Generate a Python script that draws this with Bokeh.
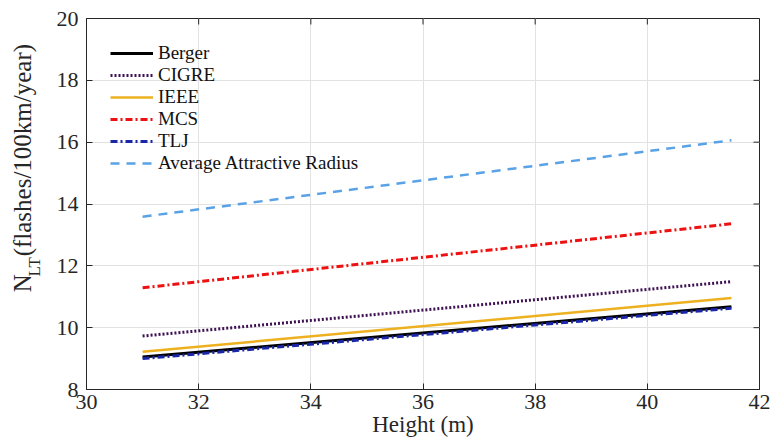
import numpy as np
from bokeh.plotting import figure
from bokeh.layouts import row
from bokeh.models import FixedTicker, Legend, LegendItem, Range1d, Label
from bokeh.embed import file_html
from bokeh.resources import INLINE

# ---- data ----
height_m = [31.0, 41.5]
berger = [9.05, 10.68]
cigre = [9.73, 11.49]
ieee = [9.22, 10.96]
mcs = [11.29, 13.36]
tlj = [9.00, 10.63]
avg_radius = [13.59, 16.06]
series_names = ["Berger", "CIGRE", "IEEE", "MCS", "TLJ", "Average Attractive Radius"]
x_ticks = [30, 32, 34, 36, 38, 40, 42]
y_ticks = [8, 10, 12, 14, 16, 18, 20]
x_label = "Height (m)"
y_label_parts = ["N", "LT", "(flashes/100km/year)"]

FONT = "Liberation Serif"
AX = "#262626"
W, H = 771, 443
YLAB_W = 48

# ---------------- main plot ----------------
p = figure(width=W - YLAB_W, height=H, x_range=Range1d(30, 42), y_range=Range1d(8, 20),
           output_backend="svg", toolbar_location=None,
           min_border_left=86 - YLAB_W, min_border_right=12, min_border_top=18,
           min_border_bottom=H - 389)
p.outline_line_color = AX
p.background_fill_color = "white"
p.border_fill_color = "white"

bottom_axis = p.below[0]
left_axis = p.left[0]
for ax in [bottom_axis, left_axis]:
    ax.axis_line_color = AX
    ax.axis_line_width = 1
    ax.major_tick_in = 6
    ax.major_tick_out = 0
    ax.minor_tick_in = 0
    ax.minor_tick_out = 0
    ax.major_tick_line_color = AX
    ax.major_label_text_font = FONT
    ax.major_label_text_font_size = "22px"
    ax.major_label_text_color = AX
bottom_axis.ticker = FixedTicker(ticks=x_ticks)
left_axis.ticker = FixedTicker(ticks=y_ticks)
bottom_axis.major_label_standoff = 5
left_axis.major_label_standoff = 8

bottom_axis.axis_label = x_label
bottom_axis.axis_label_standoff = 0
bottom_axis.axis_label_text_font = FONT
bottom_axis.axis_label_text_font_size = "23px"
bottom_axis.axis_label_text_font_style = "normal"
bottom_axis.axis_label_text_color = AX

# inward ticks on the top and right edges of the box
p.ray(x=[x_ticks[-1]] * len(y_ticks), y=y_ticks, length=6, length_units="screen",
      angle=np.pi, line_color=AX, line_width=1)
p.ray(x=x_ticks, y=[y_ticks[-1]] * len(x_ticks), length=6, length_units="screen",
      angle=-np.pi / 2, line_color=AX, line_width=1)

p.xgrid.ticker = FixedTicker(ticks=x_ticks)
p.ygrid.ticker = FixedTicker(ticks=y_ticks)
p.grid.grid_line_color = "#e2e2e2"
p.grid.grid_line_width = 1

styles = [
    (berger, "#000000", "solid", 3),
    (cigre, "#3d1152", "2 2", 3),
    (ieee, "#EDB120", "solid", 2.5),
    (mcs, "#ee1111", "7 3 2 3", 3),
    (tlj, "#1a26a8", "7 3 2 3", 3),
    (avg_radius, "#5aa2e6", "9 7", 2.5),
]
items = []
for name, (vals, col, dash, w) in zip(series_names, styles):
    r = p.line(height_m, vals, line_color=col, line_dash=dash, line_width=w)
    items.append(LegendItem(label=name, renderers=[r]))

legend = Legend(items=items, location="top_left")
legend.border_line_color = None
legend.background_fill_alpha = 0
legend.margin = 24
legend.padding = 0
legend.spacing = 0
legend.glyph_width = 43
legend.glyph_height = 20
legend.label_height = 20
legend.label_standoff = 5
legend.label_text_font = FONT
legend.label_text_font_size = "19px"
legend.label_text_color = "#111111"
p.add_layout(legend)

# ---------------- y-axis label strip (with subscript) ----------------
ylab = figure(width=YLAB_W, height=H, x_range=Range1d(0, YLAB_W), y_range=Range1d(0, H),
              output_backend="svg", toolbar_location=None,
              x_axis_type=None, y_axis_type=None, min_border=0)
ylab.outline_line_color = None
ylab.grid.visible = False
ylab.background_fill_color = "white"
for (px, py, size), txt in zip([(22, 327, "25px"), (34, 308, "17px"), (22, 284, "25px")], y_label_parts):
    ylab.add_layout(Label(x=px, y=H - py, text=txt, angle=np.pi / 2,
                          text_font=FONT, text_font_size=size, text_color=AX,
                          text_align="left", text_baseline="alphabetic"))

layout = row(ylab, p, spacing=0)
open("out.html", "w").write(file_html(layout, INLINE))
